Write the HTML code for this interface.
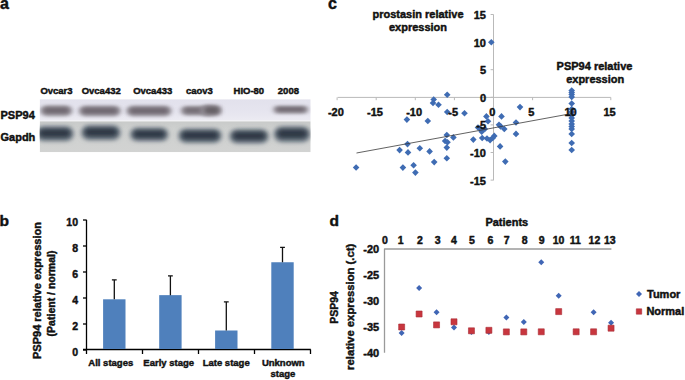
<!DOCTYPE html>
<html><head><meta charset="utf-8"><style>
html,body{margin:0;padding:0;background:#fff;width:685px;height:380px;overflow:hidden}
svg{display:block}
</style></head><body>
<svg width="685" height="380" viewBox="0 0 685 380" font-family="Liberation Sans, sans-serif" font-weight="bold" fill="#111" stroke-linejoin="round">
<defs>
<linearGradient id="gtop" x1="0" y1="0" x2="0" y2="1"><stop offset="0" stop-color="#e2e1ec"/><stop offset="0.6" stop-color="#e6e5ef"/><stop offset="1" stop-color="#ecebf2"/></linearGradient>
<linearGradient id="gbot" x1="0" y1="0" x2="0" y2="1"><stop offset="0" stop-color="#c8cac9"/><stop offset="0.25" stop-color="#cfd1d0"/><stop offset="1" stop-color="#d2d3d2"/></linearGradient>
<filter id="b1" x="-20%" y="-80%" width="140%" height="260%"><feGaussianBlur stdDeviation="2.4 1.8"/></filter>
<filter id="b2" x="-20%" y="-80%" width="140%" height="260%"><feGaussianBlur stdDeviation="2.8 2.2"/></filter>
</defs>
<rect width="685" height="380" fill="#fff"/>
<text x="0" y="8.6" font-size="16" text-anchor="start" stroke="#111" stroke-width="0.45" >a</text>
<text x="328" y="8.6" font-size="16" text-anchor="start" stroke="#111" stroke-width="0.45" >c</text>
<text x="-0.5" y="225.5" font-size="15.5" text-anchor="start" stroke="#111" stroke-width="0.45" >b</text>
<text x="329.4" y="226" font-size="15.5" text-anchor="start" stroke="#111" stroke-width="0.45" >d</text>
<g>
<clipPath id="blotclip"><rect x="39.7" y="99.2" width="271" height="53"/></clipPath>
<g clip-path="url(#blotclip)">
<rect x="39.7" y="99.2" width="271" height="21.6" fill="url(#gtop)"/>
<rect x="39.7" y="120.2" width="271" height="1.2" fill="#f2f2f5"/>
<rect x="39.7" y="121.4" width="271" height="30.8" fill="url(#gbot)"/>
<rect x="40.5" y="105.0" width="31.5" height="11.5" rx="5.8" fill="#a4a0a8" filter="url(#b1)"/>
<rect x="43.0" y="107.2" width="26.5" height="6.5" rx="3.2" fill="#726b73" filter="url(#b1)"/>
<rect x="79.0" y="105.3" width="41.5" height="11.5" rx="5.8" fill="#a4a0a8" filter="url(#b1)"/>
<rect x="81.5" y="107.5" width="36.5" height="6.5" rx="3.2" fill="#726b73" filter="url(#b1)"/>
<rect x="126.6" y="105.2" width="44.7" height="11.5" rx="5.8" fill="#a4a0a8" filter="url(#b1)"/>
<rect x="129.1" y="107.5" width="39.7" height="6.5" rx="3.2" fill="#726b73" filter="url(#b1)"/>
<rect x="273.5" y="105.6" width="34.5" height="8.3" rx="4.1" fill="#a4a0a8" filter="url(#b1)"/>
<rect x="276.0" y="107.1" width="29.5" height="4.7" rx="2.3" fill="#726b73" filter="url(#b1)"/>
<rect x="181.0" y="105.8" width="33.0" height="10.0" rx="5.0" fill="#a4a0a8" filter="url(#b1)"/>
<rect x="183.5" y="107.6" width="28.5" height="6.0" rx="3.0" fill="#766f77" filter="url(#b1)"/>
<rect x="201.0" y="104.5" width="20.5" height="12.0" rx="6.0" fill="#9d98a0" filter="url(#b1)"/>
<rect x="204.0" y="106.5" width="15.5" height="7.5" rx="3.8" fill="#686268" filter="url(#b1)"/>
<rect x="36.0" y="126.3" width="37.5" height="15.0" rx="7.5" fill="#6e7984" filter="url(#b2)"/>
<rect x="39.0" y="129.1" width="31.5" height="8.5" rx="4.2" fill="#2e3945" filter="url(#b2)"/>
<rect x="81.4" y="125.3" width="39.0" height="15.0" rx="7.5" fill="#6e7984" filter="url(#b2)"/>
<rect x="84.4" y="128.1" width="33.0" height="8.5" rx="4.2" fill="#2e3945" filter="url(#b2)"/>
<rect x="130.3" y="127.8" width="37.9" height="13.5" rx="6.8" fill="#6e7984" filter="url(#b2)"/>
<rect x="133.3" y="130.3" width="31.9" height="7.7" rx="3.8" fill="#2e3945" filter="url(#b2)"/>
<rect x="178.5" y="128.7" width="43.0" height="14.2" rx="7.1" fill="#6e7984" filter="url(#b2)"/>
<rect x="181.5" y="131.3" width="37.0" height="8.1" rx="4.0" fill="#2e3945" filter="url(#b2)"/>
<rect x="229.7" y="129.2" width="38.8" height="14.2" rx="7.1" fill="#6e7984" filter="url(#b2)"/>
<rect x="232.7" y="131.8" width="32.8" height="8.1" rx="4.0" fill="#2e3945" filter="url(#b2)"/>
<rect x="274.0" y="126.4" width="36.3" height="15.8" rx="7.9" fill="#6e7984" filter="url(#b2)"/>
<rect x="277.0" y="129.3" width="30.3" height="8.9" rx="4.5" fill="#2e3945" filter="url(#b2)"/>
</g></g>
<text x="56.5" y="94" font-size="9.5" text-anchor="middle" stroke="#111" stroke-width="0.45" >Ovcar3</text>
<text x="101.2" y="94" font-size="9.5" text-anchor="middle" stroke="#111" stroke-width="0.45" >Ovca432</text>
<text x="152.7" y="94" font-size="9.5" text-anchor="middle" stroke="#111" stroke-width="0.45" >Ovca433</text>
<text x="199.45" y="94" font-size="9.5" text-anchor="middle" stroke="#111" stroke-width="0.45" >caov3</text>
<text x="248.85000000000002" y="94" font-size="9.5" text-anchor="middle" stroke="#111" stroke-width="0.45" >HIO-80</text>
<text x="288.4" y="94" font-size="9.5" text-anchor="middle" stroke="#111" stroke-width="0.45" >2008</text>
<text x="0.5" y="118.8" font-size="11" text-anchor="start" stroke="#111" stroke-width="0.45" >PSP94</text>
<text x="0.5" y="140.8" font-size="11" text-anchor="start" stroke="#111" stroke-width="0.45" >Gapdh</text>
<path d="M86.5 219.8V350" stroke="#000" stroke-width="1.3" fill="none"/>
<path d="M83 349.5H310.8" stroke="#000" stroke-width="1.3" fill="none"/>
<path d="M83 350H86.5" stroke="#000" stroke-width="1.3"/>
<text x="78" y="355.6" font-size="10.5" text-anchor="end" stroke="#111" stroke-width="0.45" >0</text>
<path d="M83 324H86.5" stroke="#000" stroke-width="1.3"/>
<text x="78" y="329.6" font-size="10.5" text-anchor="end" stroke="#111" stroke-width="0.45" >2</text>
<path d="M83 298H86.5" stroke="#000" stroke-width="1.3"/>
<text x="78" y="303.6" font-size="10.5" text-anchor="end" stroke="#111" stroke-width="0.45" >4</text>
<path d="M83 272H86.5" stroke="#000" stroke-width="1.3"/>
<text x="78" y="277.6" font-size="10.5" text-anchor="end" stroke="#111" stroke-width="0.45" >6</text>
<path d="M83 246H86.5" stroke="#000" stroke-width="1.3"/>
<text x="78" y="251.6" font-size="10.5" text-anchor="end" stroke="#111" stroke-width="0.45" >8</text>
<path d="M83 220H86.5" stroke="#000" stroke-width="1.3"/>
<text x="78" y="225.6" font-size="10.5" text-anchor="end" stroke="#111" stroke-width="0.45" >10</text>
<path d="M86.5 349.5V354" stroke="#000" stroke-width="1.3"/>
<path d="M142.5 349.5V354" stroke="#000" stroke-width="1.3"/>
<path d="M198.5 349.5V354" stroke="#000" stroke-width="1.3"/>
<path d="M254.5 349.5V354" stroke="#000" stroke-width="1.3"/>
<path d="M310.5 349.5V354" stroke="#000" stroke-width="1.3"/>
<rect x="103.1" y="299.3" width="22.4" height="49.69999999999999" fill="#4f80bc"/>
<path d="M114.3 299.3V279.8M111.89999999999999 279.8H116.7" stroke="#111" stroke-width="1.3" fill="none"/>
<rect x="159.20000000000002" y="295.14" width="22.4" height="53.860000000000014" fill="#4f80bc"/>
<path d="M170.4 295.14V275.9M168.0 275.9H172.8" stroke="#111" stroke-width="1.3" fill="none"/>
<rect x="215.10000000000002" y="330.5" width="22.4" height="18.5" fill="#4f80bc"/>
<path d="M226.3 330.5V301.9M223.9 301.9H228.70000000000002" stroke="#111" stroke-width="1.3" fill="none"/>
<rect x="271.3" y="262.25" width="22.4" height="86.75" fill="#4f80bc"/>
<path d="M282.5 262.25V247.3M280.1 247.3H284.9" stroke="#111" stroke-width="1.3" fill="none"/>
<text x="110.8" y="365.8" font-size="9.5" text-anchor="middle" stroke="#111" stroke-width="0.45" >All stages</text>
<text x="168.7" y="365.8" font-size="9.5" text-anchor="middle" stroke="#111" stroke-width="0.45" >Early stage</text>
<text x="226.2" y="365.8" font-size="9.5" text-anchor="middle" stroke="#111" stroke-width="0.45" >Late stage</text>
<text x="283.3" y="365.8" font-size="9.5" text-anchor="middle" stroke="#111" stroke-width="0.45" >Unknown</text>
<text x="282.9" y="376.8" font-size="9.5" text-anchor="middle" stroke="#111" stroke-width="0.45" >stage</text>
<text x="0" y="0" font-size="11" text-anchor="middle" stroke="#111" stroke-width="0.45" transform="translate(40.8 290.5) rotate(-90)">PSP94 relative expression</text>
<text x="0" y="0" font-size="10.5" text-anchor="middle" stroke="#111" stroke-width="0.45" transform="translate(55 293.5) rotate(-90)">(Patient / normal)</text>
<path d="M493.5 14.5V180.3" stroke="#b9b9b9" stroke-width="1" fill="none"/>
<path d="M337.6 97.4H610.8" stroke="#b9b9b9" stroke-width="1" fill="none"/>
<path d="M490.6 14.50H493.5" stroke="#b9b9b9" stroke-width="1"/>
<path d="M490.6 42.10H493.5" stroke="#b9b9b9" stroke-width="1"/>
<path d="M490.6 69.70H493.5" stroke="#b9b9b9" stroke-width="1"/>
<path d="M490.6 97.30H493.5" stroke="#b9b9b9" stroke-width="1"/>
<path d="M490.6 124.90H493.5" stroke="#b9b9b9" stroke-width="1"/>
<path d="M490.6 152.50H493.5" stroke="#b9b9b9" stroke-width="1"/>
<path d="M490.6 180.10H493.5" stroke="#b9b9b9" stroke-width="1"/>
<path d="M337.10 97.4V100.2" stroke="#b9b9b9" stroke-width="1"/>
<path d="M376.20 97.4V100.2" stroke="#b9b9b9" stroke-width="1"/>
<path d="M415.30 97.4V100.2" stroke="#b9b9b9" stroke-width="1"/>
<path d="M454.40 97.4V100.2" stroke="#b9b9b9" stroke-width="1"/>
<path d="M493.50 97.4V100.2" stroke="#b9b9b9" stroke-width="1"/>
<path d="M532.60 97.4V100.2" stroke="#b9b9b9" stroke-width="1"/>
<path d="M571.70 97.4V100.2" stroke="#b9b9b9" stroke-width="1"/>
<path d="M610.80 97.4V100.2" stroke="#b9b9b9" stroke-width="1"/>
<path d="M356.10 164.20L359.40 167.50L356.10 170.80L352.80 167.50Z" fill="#3f6cb3"/>
<path d="M406.90 116.30L410.20 119.60L406.90 122.90L403.60 119.60Z" fill="#3f6cb3"/>
<path d="M427.80 117.70L431.10 121.00L427.80 124.30L424.50 121.00Z" fill="#3f6cb3"/>
<path d="M407.50 140.80L410.80 144.10L407.50 147.40L404.20 144.10Z" fill="#3f6cb3"/>
<path d="M399.60 146.80L402.90 150.10L399.60 153.40L396.30 150.10Z" fill="#3f6cb3"/>
<path d="M408.00 149.10L411.30 152.40L408.00 155.70L404.70 152.40Z" fill="#3f6cb3"/>
<path d="M419.80 145.00L423.10 148.30L419.80 151.60L416.50 148.30Z" fill="#3f6cb3"/>
<path d="M429.60 148.10L432.90 151.40L429.60 154.70L426.30 151.40Z" fill="#3f6cb3"/>
<path d="M434.20 158.80L437.50 162.10L434.20 165.40L430.90 162.10Z" fill="#3f6cb3"/>
<path d="M402.90 164.30L406.20 167.60L402.90 170.90L399.60 167.60Z" fill="#3f6cb3"/>
<path d="M413.60 161.90L416.90 165.20L413.60 168.50L410.30 165.20Z" fill="#3f6cb3"/>
<path d="M415.40 169.30L418.70 172.60L415.40 175.90L412.10 172.60Z" fill="#3f6cb3"/>
<path d="M447.20 91.40L450.50 94.70L447.20 98.00L443.90 94.70Z" fill="#3f6cb3"/>
<path d="M433.70 96.20L437.00 99.50L433.70 102.80L430.40 99.50Z" fill="#3f6cb3"/>
<path d="M433.00 99.70L436.30 103.00L433.00 106.30L429.70 103.00Z" fill="#3f6cb3"/>
<path d="M438.50 101.40L441.80 104.70L438.50 108.00L435.20 104.70Z" fill="#3f6cb3"/>
<path d="M447.20 108.70L450.50 112.00L447.20 115.30L443.90 112.00Z" fill="#3f6cb3"/>
<path d="M464.50 109.90L467.80 113.20L464.50 116.50L461.20 113.20Z" fill="#3f6cb3"/>
<path d="M446.80 131.70L450.10 135.00L446.80 138.30L443.50 135.00Z" fill="#3f6cb3"/>
<path d="M453.40 134.10L456.70 137.40L453.40 140.70L450.10 137.40Z" fill="#3f6cb3"/>
<path d="M445.10 137.70L448.40 141.00L445.10 144.30L441.80 141.00Z" fill="#3f6cb3"/>
<path d="M447.50 138.90L450.80 142.20L447.50 145.50L444.20 142.20Z" fill="#3f6cb3"/>
<path d="M446.80 144.30L450.10 147.60L446.80 150.90L443.50 147.60Z" fill="#3f6cb3"/>
<path d="M446.80 155.00L450.10 158.30L446.80 161.60L443.50 158.30Z" fill="#3f6cb3"/>
<path d="M486.40 113.10L489.70 116.40L486.40 119.70L483.10 116.40Z" fill="#3f6cb3"/>
<path d="M501.50 113.10L504.80 116.40L501.50 119.70L498.20 116.40Z" fill="#3f6cb3"/>
<path d="M488.00 117.90L491.30 121.20L488.00 124.50L484.70 121.20Z" fill="#3f6cb3"/>
<path d="M499.00 121.50L502.30 124.80L499.00 128.10L495.70 124.80Z" fill="#3f6cb3"/>
<path d="M500.60 123.10L503.90 126.40L500.60 129.70L497.30 126.40Z" fill="#3f6cb3"/>
<path d="M504.30 125.70L507.60 129.00L504.30 132.30L501.00 129.00Z" fill="#3f6cb3"/>
<path d="M478.00 124.20L481.30 127.50L478.00 130.80L474.70 127.50Z" fill="#3f6cb3"/>
<path d="M480.10 125.20L483.40 128.50L480.10 131.80L476.80 128.50Z" fill="#3f6cb3"/>
<path d="M481.70 128.40L485.00 131.70L481.70 135.00L478.40 131.70Z" fill="#3f6cb3"/>
<path d="M484.80 125.70L488.10 129.00L484.80 132.30L481.50 129.00Z" fill="#3f6cb3"/>
<path d="M473.30 136.30L476.60 139.60L473.30 142.90L470.00 139.60Z" fill="#3f6cb3"/>
<path d="M482.20 134.70L485.50 138.00L482.20 141.30L478.90 138.00Z" fill="#3f6cb3"/>
<path d="M487.00 135.20L490.30 138.50L487.00 141.80L483.70 138.50Z" fill="#3f6cb3"/>
<path d="M490.10 136.80L493.40 140.10L490.10 143.40L486.80 140.10Z" fill="#3f6cb3"/>
<path d="M494.30 132.60L497.60 135.90L494.30 139.20L491.00 135.90Z" fill="#3f6cb3"/>
<path d="M492.70 134.70L496.00 138.00L492.70 141.30L489.40 138.00Z" fill="#3f6cb3"/>
<path d="M500.10 143.10L503.40 146.40L500.10 149.70L496.80 146.40Z" fill="#3f6cb3"/>
<path d="M520.00 103.80L523.30 107.10L520.00 110.40L516.70 107.10Z" fill="#3f6cb3"/>
<path d="M516.00 119.20L519.30 122.50L516.00 125.80L512.70 122.50Z" fill="#3f6cb3"/>
<path d="M516.00 130.60L519.30 133.90L516.00 137.20L512.70 133.90Z" fill="#3f6cb3"/>
<path d="M505.30 158.30L508.60 161.60L505.30 164.90L502.00 161.60Z" fill="#3f6cb3"/>
<path d="M491.30 39.00L494.60 42.30L491.30 45.60L488.00 42.30Z" fill="#3f6cb3"/>
<path d="M571.70 87.20L575.00 90.50L571.70 93.80L568.40 90.50Z" fill="#3f6cb3"/>
<path d="M571.70 89.20L575.00 92.50L571.70 95.80L568.40 92.50Z" fill="#3f6cb3"/>
<path d="M571.70 91.20L575.00 94.50L571.70 97.80L568.40 94.50Z" fill="#3f6cb3"/>
<path d="M571.70 93.70L575.00 97.00L571.70 100.30L568.40 97.00Z" fill="#3f6cb3"/>
<path d="M571.70 100.20L575.00 103.50L571.70 106.80L568.40 103.50Z" fill="#3f6cb3"/>
<path d="M571.70 105.70L575.00 109.00L571.70 112.30L568.40 109.00Z" fill="#3f6cb3"/>
<path d="M571.70 108.70L575.00 112.00L571.70 115.30L568.40 112.00Z" fill="#3f6cb3"/>
<path d="M571.70 111.70L575.00 115.00L571.70 118.30L568.40 115.00Z" fill="#3f6cb3"/>
<path d="M571.70 114.70L575.00 118.00L571.70 121.30L568.40 118.00Z" fill="#3f6cb3"/>
<path d="M571.70 117.70L575.00 121.00L571.70 124.30L568.40 121.00Z" fill="#3f6cb3"/>
<path d="M571.70 120.70L575.00 124.00L571.70 127.30L568.40 124.00Z" fill="#3f6cb3"/>
<path d="M571.70 123.20L575.00 126.50L571.70 129.80L568.40 126.50Z" fill="#3f6cb3"/>
<path d="M571.70 125.70L575.00 129.00L571.70 132.30L568.40 129.00Z" fill="#3f6cb3"/>
<path d="M571.70 130.70L575.00 134.00L571.70 137.30L568.40 134.00Z" fill="#3f6cb3"/>
<path d="M571.70 139.70L575.00 143.00L571.70 146.30L568.40 143.00Z" fill="#3f6cb3"/>
<path d="M571.70 146.70L575.00 150.00L571.70 153.30L568.40 150.00Z" fill="#3f6cb3"/>
<path d="M356.5 153L572 113.5" stroke="#3a3a3a" stroke-width="0.8" fill="none"/>
<text x="486" y="19.0" font-size="11" text-anchor="end" stroke="#111" stroke-width="0.45" >15</text>
<text x="486" y="46.6" font-size="11" text-anchor="end" stroke="#111" stroke-width="0.45" >10</text>
<text x="486" y="74.2" font-size="11" text-anchor="end" stroke="#111" stroke-width="0.45" >5</text>
<text x="486" y="101.8" font-size="11" text-anchor="end" stroke="#111" stroke-width="0.45" >0</text>
<text x="486" y="129.4" font-size="11" text-anchor="end" stroke="#111" stroke-width="0.45" >-5</text>
<text x="486" y="157.0" font-size="11" text-anchor="end" stroke="#111" stroke-width="0.45" >-10</text>
<text x="486" y="184.6" font-size="11" text-anchor="end" stroke="#111" stroke-width="0.45" >-15</text>
<text x="335.9" y="115.9" font-size="11" text-anchor="middle" stroke="#111" stroke-width="0.45" >-20</text>
<text x="375.0" y="115.9" font-size="11" text-anchor="middle" stroke="#111" stroke-width="0.45" >-15</text>
<text x="414.1" y="115.9" font-size="11" text-anchor="middle" stroke="#111" stroke-width="0.45" >-10</text>
<text x="453.2" y="115.9" font-size="11" text-anchor="middle" stroke="#111" stroke-width="0.45" >-5</text>
<text x="492.3" y="115.9" font-size="11" text-anchor="middle" stroke="#111" stroke-width="0.45" >0</text>
<text x="531.4" y="115.9" font-size="11" text-anchor="middle" stroke="#111" stroke-width="0.45" >5</text>
<text x="570.5" y="115.9" font-size="11" text-anchor="middle" stroke="#111" stroke-width="0.45" >10</text>
<text x="609.6" y="115.9" font-size="11" text-anchor="middle" stroke="#111" stroke-width="0.45" >15</text>
<text x="418" y="17.5" font-size="11" text-anchor="middle" stroke="#111" stroke-width="0.45" >prostasin relative</text>
<text x="418" y="30.8" font-size="11" text-anchor="middle" stroke="#111" stroke-width="0.45" >expression</text>
<text x="594.5" y="69.5" font-size="11" text-anchor="middle" stroke="#111" stroke-width="0.45" >PSP94 relative</text>
<text x="595.2" y="82.8" font-size="11" text-anchor="middle" stroke="#111" stroke-width="0.45" >expression</text>
<path d="M384.5 352.8V249H611.4" stroke="#9a9a9a" stroke-width="1.3" fill="none"/>
<text x="384.8" y="243.6" font-size="10.5" text-anchor="middle" stroke="#111" stroke-width="0.45" >0</text>
<text x="400.55" y="243.6" font-size="10.5" text-anchor="middle" stroke="#111" stroke-width="0.45" >1</text>
<text x="419.9" y="243.6" font-size="10.5" text-anchor="middle" stroke="#111" stroke-width="0.45" >2</text>
<text x="437.65" y="243.6" font-size="10.5" text-anchor="middle" stroke="#111" stroke-width="0.45" >3</text>
<text x="453.8" y="243.6" font-size="10.5" text-anchor="middle" stroke="#111" stroke-width="0.45" >4</text>
<text x="471.95" y="243.6" font-size="10.5" text-anchor="middle" stroke="#111" stroke-width="0.45" >5</text>
<text x="490.3" y="243.6" font-size="10.5" text-anchor="middle" stroke="#111" stroke-width="0.45" >6</text>
<text x="506.65" y="243.6" font-size="10.5" text-anchor="middle" stroke="#111" stroke-width="0.45" >7</text>
<text x="524.7" y="243.6" font-size="10.5" text-anchor="middle" stroke="#111" stroke-width="0.45" >8</text>
<text x="541.75" y="243.6" font-size="10.5" text-anchor="middle" stroke="#111" stroke-width="0.45" >9</text>
<text x="558.6" y="243.6" font-size="10.5" text-anchor="middle" stroke="#111" stroke-width="0.45" >10</text>
<text x="575.25" y="243.6" font-size="10.5" text-anchor="middle" stroke="#111" stroke-width="0.45" >11</text>
<text x="594.4" y="243.6" font-size="10.5" text-anchor="middle" stroke="#111" stroke-width="0.45" >12</text>
<text x="609.85" y="243.6" font-size="10.5" text-anchor="middle" stroke="#111" stroke-width="0.45" >13</text>
<text x="379.2" y="253.2" font-size="11" text-anchor="end" stroke="#111" stroke-width="0.45" >-20</text>
<text x="379.2" y="279.05" font-size="11" text-anchor="end" stroke="#111" stroke-width="0.45" >-25</text>
<text x="379.2" y="304.9" font-size="11" text-anchor="end" stroke="#111" stroke-width="0.45" >-30</text>
<text x="379.2" y="330.75" font-size="11" text-anchor="end" stroke="#111" stroke-width="0.45" >-35</text>
<text x="379.2" y="356.6" font-size="11" text-anchor="end" stroke="#111" stroke-width="0.45" >-40</text>
<text x="506.8" y="225.8" font-size="11" text-anchor="middle" stroke="#111" stroke-width="0.45" >Patients</text>
<text x="0" y="0" font-size="10.5" text-anchor="middle" stroke="#111" stroke-width="0.45" transform="translate(337.6 307.5) rotate(-90)">PSP94</text>
<text x="0" y="0" font-size="11.3" text-anchor="middle" stroke="#111" stroke-width="0.45" transform="translate(353.5 306.8) rotate(-90)">relative expression (.ct)</text>
<path d="M401.65 330.00L404.65 333.00L401.65 336.00L398.65 333.00Z" fill="#4066b5"/>
<path d="M419.10 284.90L422.10 287.90L419.10 290.90L416.10 287.90Z" fill="#4066b5"/>
<path d="M436.55 309.30L439.55 312.30L436.55 315.30L433.55 312.30Z" fill="#4066b5"/>
<path d="M454.00 324.50L457.00 327.50L454.00 330.50L451.00 327.50Z" fill="#4066b5"/>
<path d="M471.45 329.00L474.45 332.00L471.45 335.00L468.45 332.00Z" fill="#4066b5"/>
<path d="M488.90 329.00L491.90 332.00L488.90 335.00L485.90 332.00Z" fill="#4066b5"/>
<path d="M506.35 314.60L509.35 317.60L506.35 320.60L503.35 317.60Z" fill="#4066b5"/>
<path d="M523.80 318.90L526.80 321.90L523.80 324.90L520.80 321.90Z" fill="#4066b5"/>
<path d="M541.25 259.30L544.25 262.30L541.25 265.30L538.25 262.30Z" fill="#4066b5"/>
<path d="M558.70 292.70L561.70 295.70L558.70 298.70L555.70 295.70Z" fill="#4066b5"/>
<path d="M576.15 328.80L579.15 331.80L576.15 334.80L573.15 331.80Z" fill="#4066b5"/>
<path d="M593.60 309.30L596.60 312.30L593.60 315.30L590.60 312.30Z" fill="#4066b5"/>
<path d="M611.05 319.70L614.05 322.70L611.05 325.70L608.05 322.70Z" fill="#4066b5"/>
<rect x="398.65" y="324.00" width="6.00" height="6.00" fill="#c8363e" stroke="#a92d36" stroke-width="0.6"/>
<rect x="416.10" y="311.00" width="6.00" height="6.00" fill="#c8363e" stroke="#a92d36" stroke-width="0.6"/>
<rect x="433.55" y="321.90" width="6.00" height="6.00" fill="#c8363e" stroke="#a92d36" stroke-width="0.6"/>
<rect x="451.00" y="318.80" width="6.00" height="6.00" fill="#c8363e" stroke="#a92d36" stroke-width="0.6"/>
<rect x="468.45" y="327.80" width="6.00" height="6.00" fill="#c8363e" stroke="#a92d36" stroke-width="0.6"/>
<rect x="485.90" y="327.30" width="6.00" height="6.00" fill="#c8363e" stroke="#a92d36" stroke-width="0.6"/>
<rect x="503.35" y="328.90" width="6.00" height="6.00" fill="#c8363e" stroke="#a92d36" stroke-width="0.6"/>
<rect x="520.80" y="328.90" width="6.00" height="6.00" fill="#c8363e" stroke="#a92d36" stroke-width="0.6"/>
<rect x="538.25" y="328.80" width="6.00" height="6.00" fill="#c8363e" stroke="#a92d36" stroke-width="0.6"/>
<rect x="555.70" y="308.60" width="6.00" height="6.00" fill="#c8363e" stroke="#a92d36" stroke-width="0.6"/>
<rect x="573.15" y="328.80" width="6.00" height="6.00" fill="#c8363e" stroke="#a92d36" stroke-width="0.6"/>
<rect x="590.60" y="328.80" width="6.00" height="6.00" fill="#c8363e" stroke="#a92d36" stroke-width="0.6"/>
<rect x="608.05" y="325.20" width="6.00" height="6.00" fill="#c8363e" stroke="#a92d36" stroke-width="0.6"/>
<path d="M639.00 291.00L642.00 294.00L639.00 297.00L636.00 294.00Z" fill="#4066b5"/>
<text x="647" y="297.9" font-size="11" text-anchor="start" stroke="#111" stroke-width="0.45" >Tumor</text>
<rect x="636.30" y="308.80" width="5.40" height="5.40" fill="#c8363e" stroke="#a92d36" stroke-width="0.6"/>
<text x="646.4" y="315.3" font-size="11" text-anchor="start" stroke="#111" stroke-width="0.45" >Normal</text>
</svg>
</body></html>
